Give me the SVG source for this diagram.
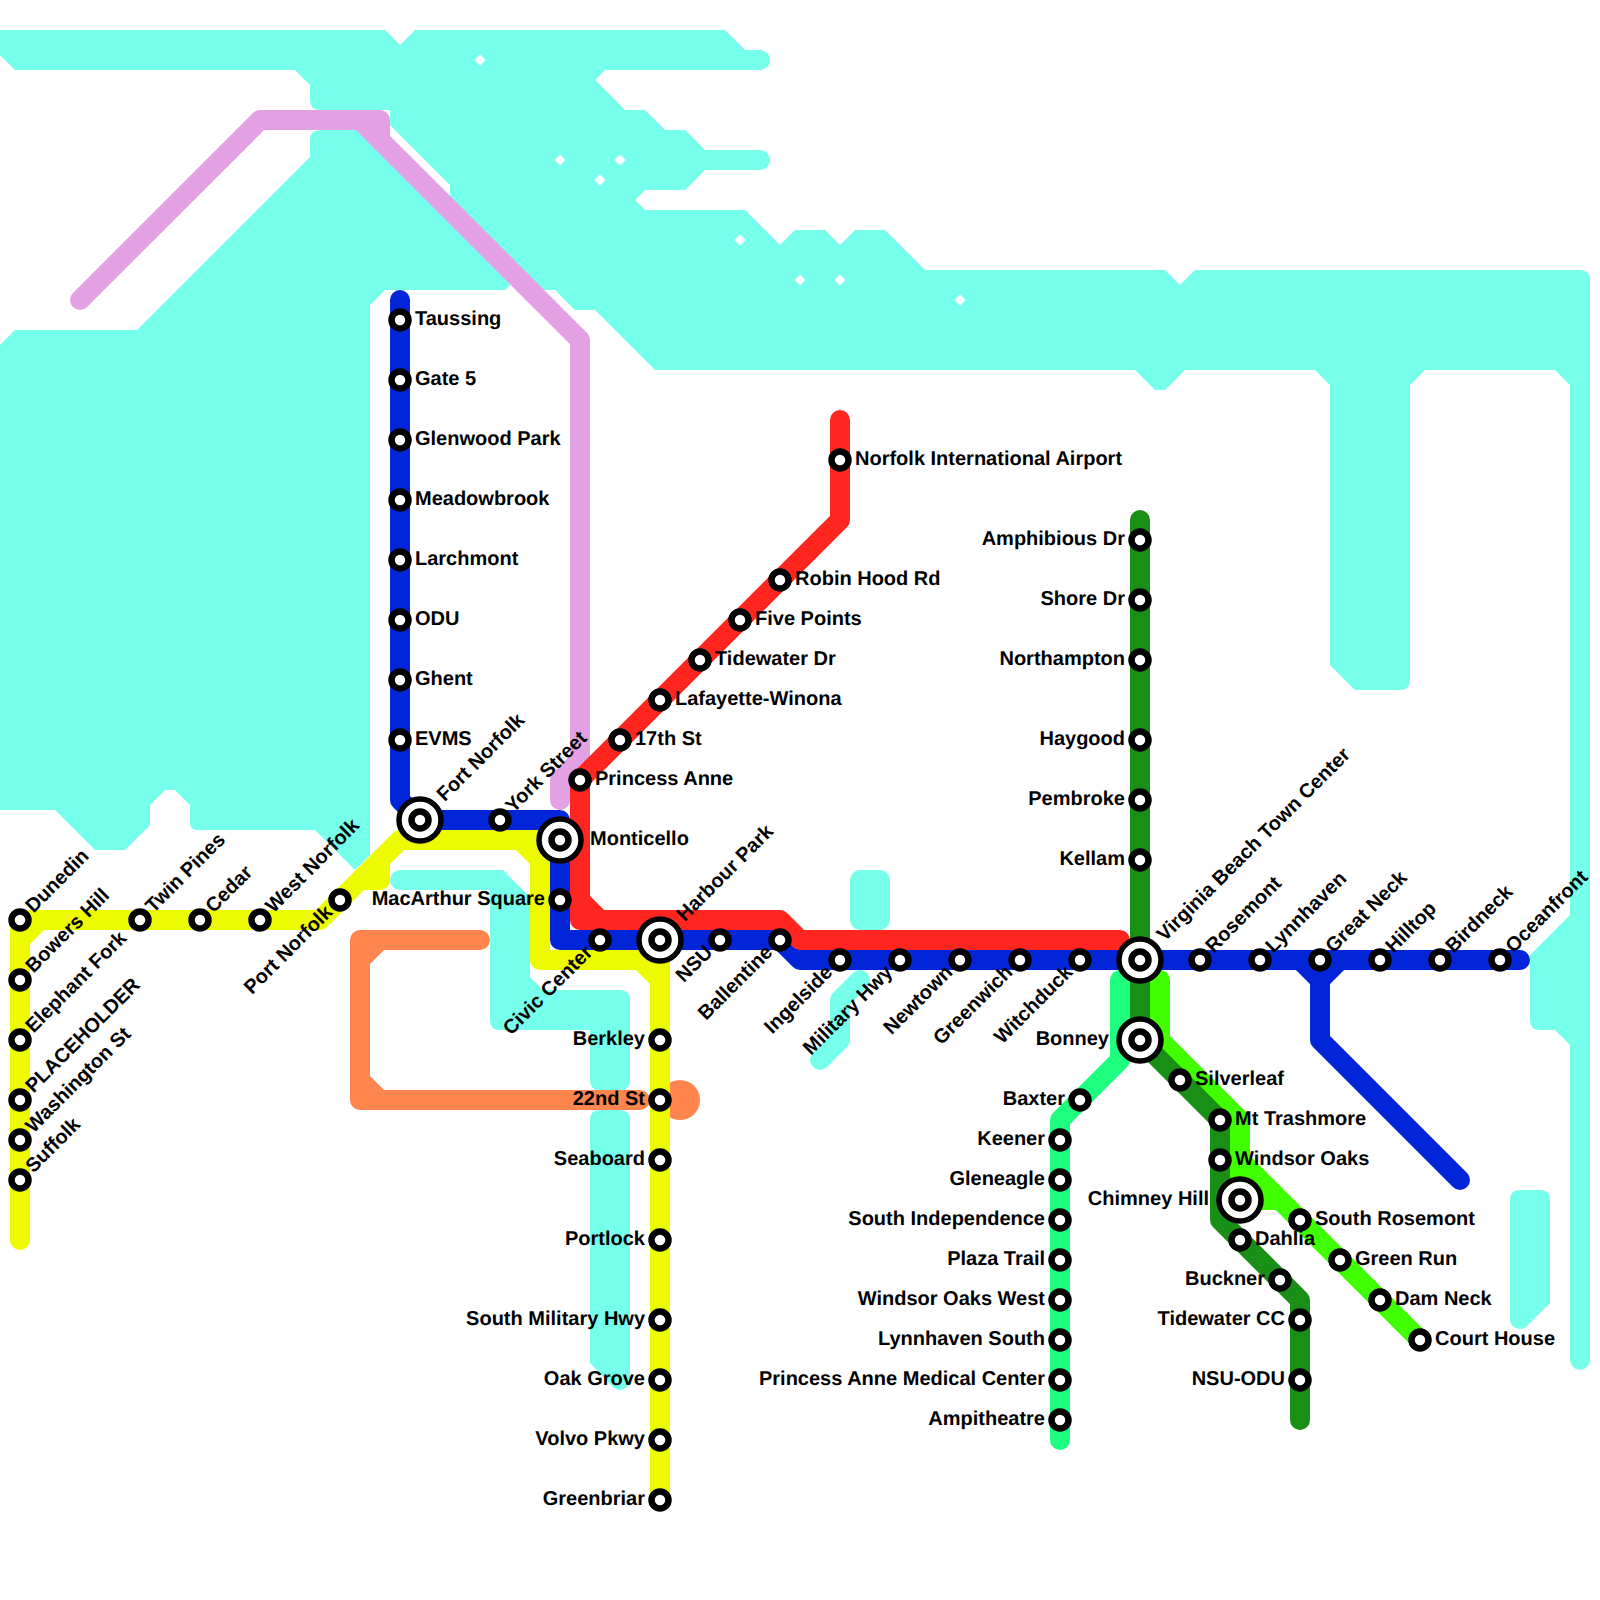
<svg xmlns="http://www.w3.org/2000/svg" width="1600" height="1600" viewBox="0 0 1600 1600">
<style>
.w{fill:#76FFEB}
.ws{fill:none;stroke:#76FFEB;stroke-width:20;stroke-linecap:round;stroke-linejoin:round}
.l{fill:none;stroke-width:20;stroke-linecap:round;stroke-linejoin:round}
.s{fill:#fff;stroke:#000;stroke-width:6.5}
.o{fill:#fff;stroke:#000;stroke-width:5.5}
text{font-family:"Liberation Sans",Arial,sans-serif;font-weight:700;font-size:20px;fill:#000;text-rendering:geometricPrecision}
.e{text-anchor:end}
</style>
<defs>
<circle id="st" class="s" r="8.500"/>
<g id="ix"><circle class="o" r="21"/><circle class="s" r="8.500"/></g>
</defs>
<rect width="1600" height="1600" fill="#fff"/>
<g id="water">
<path class="w" d="M0,30H385L400,45L415,30H725L745,50H760A10,10 0 0 1 760,70H605L595,80L625,110H645L665,130H685L705,150H760A10,10 0 0 1 760,170H705L685,190H645L635,200L645,210H745L780,245L795,230H825L840,245L855,230H885L925,270H1165L1180,285L1195,270H1580Q1590,270 1590,280V1360A10,10 0 0 1 1570,1360V1045L1555,1030H1540Q1530,1030 1530,1020V955L1570,915V385L1555,370H1425L1410,385V680Q1410,690 1400,690H1355L1330,665V385L1315,370H1185L1165,390H1155L1135,370H655L595,310H575L555,290H530L515,280L505,290H385L370,305V855L355,870L315,830H197Q190,830 190,822V805L175,790H165L150,805V825L125,850H95L55,810H0V345L15,330H137L310,157V140Q310,130 320,130H365L450,215V185L390,125V110H320Q310,110 310,100V85L295,70H15L0,55Z"/>
<path class="w" d="M400,870H503L530,897V977L543,990H620Q630,990 630,1000V1080Q630,1090 620,1090H600Q590,1090 590,1080V1030H500Q490,1030 490,1020V890H400A10,10 0 0 1 400,870Z"/>
<path class="w" d="M600,1110H620Q630,1110 630,1120V1380A10,10 0 0 1 613,1387L590,1363V1120Q590,1110 600,1110Z"/>
<rect class="w" x="850" y="870" width="40" height="60" rx="10"/>
<path class="ws" d="M860,980L840,1000V1040L820,1060"/>
<path class="w" d="M1520,1190H1540Q1550,1190 1550,1200V1303L1527,1326A10,10 0 0 1 1510,1320V1200Q1510,1190 1520,1190Z"/>
<g fill="#fff"><path d="M480,54.500l5.500,5.500l-5.500,5.500l-5.500,-5.500Z"/><path d="M560,154.500l5.500,5.500l-5.500,5.500l-5.500,-5.500Z"/><path d="M620,154.500l5.500,5.500l-5.500,5.500l-5.500,-5.500Z"/><path d="M600,174.500l5.500,5.500l-5.500,5.500l-5.500,-5.500Z"/><path d="M740,234.500l5.500,5.500l-5.500,5.500l-5.500,-5.500Z"/><path d="M800,274.500l5.500,5.500l-5.500,5.500l-5.500,-5.500Z"/><path d="M840,274.500l5.500,5.500l-5.500,5.500l-5.500,-5.500Z"/><path d="M960,294.500l5.500,5.500l-5.500,5.500l-5.500,-5.500Z"/></g>
</g>
<g id="connectors">
<path class="l" stroke="#E3A0E3" d="M80,300L260,120H380V140L580,340V760L560,780V800M360,120L380,140"/>
<path class="l" stroke="#FF854F" d="M480,940H360V1100H640M380,940L360,960M360,1080L380,1100"/>
<circle cx="680" cy="1100" r="20" fill="#FF854F"/>
<path class="l" stroke="#EDFA00" d="M20,1240V920H320L400,840H540V960H660V1500M20,940L40,920M520,840L540,860M640,960L660,980M400,840L380,860V880H360"/>
<path class="l" stroke="#0225D8" d="M400,300V800L420,820H560V940H780L800,960H1520M1300,960L1320,980L1340,960M1320,980V1040L1460,1180"/>
<path class="l" stroke="#FF2620" d="M840,420V520L580,780V920H780L800,940H1120M580,900L600,920"/>
<path class="l" stroke="#1FFF7F" d="M1120,980V1060L1060,1120V1440"/>
<path class="l" stroke="#40FF00" d="M1160,980V1040L1240,1120V1200H1280M1240,1160L1420,1340"/>
<path class="l" stroke="#198F16" d="M1140,520V1040L1220,1120V1220L1300,1300V1420"/>
</g>
<g id="n-taussing"><use href="#st" x="400" y="320"/><text x="415" y="325">Taussing</text></g>
<g id="n-gate5"><use href="#st" x="400" y="380"/><text x="415" y="385">Gate 5</text></g>
<g id="n-glenwood"><use href="#st" x="400" y="440"/><text x="415" y="445">Glenwood Park</text></g>
<g id="n-meadowbrook"><use href="#st" x="400" y="500"/><text x="415" y="505">Meadowbrook</text></g>
<g id="n-larchmont"><use href="#st" x="400" y="560"/><text x="415" y="565">Larchmont</text></g>
<g id="n-odu"><use href="#st" x="400" y="620"/><text x="415" y="625">ODU</text></g>
<g id="n-ghent"><use href="#st" x="400" y="680"/><text x="415" y="685">Ghent</text></g>
<g id="n-evms"><use href="#st" x="400" y="740"/><text x="415" y="745">EVMS</text></g>
<g id="n-fort-norfolk"><use href="#ix" x="420" y="820"/><text transform="translate(420 820) rotate(-45)" x="30" y="5">Fort Norfolk</text></g>
<g id="n-york"><use href="#st" x="500" y="820"/><text transform="translate(500 820) rotate(-45)" x="14" y="5">York Street</text></g>
<g id="n-monticello"><use href="#ix" x="560" y="840"/><text x="590" y="845">Monticello</text></g>
<g id="n-macarthur"><use href="#st" x="560" y="900"/><text class="e" x="545" y="905">MacArthur Square</text></g>
<g id="n-civic"><use href="#st" x="600" y="940"/><text class="e" transform="translate(600 940) rotate(-45)" x="-14" y="5">Civic Center</text></g>
<g id="n-harbour"><use href="#ix" x="660" y="940"/><text transform="translate(660 940) rotate(-45)" x="30" y="5">Harbour Park</text></g>
<g id="n-nsu"><use href="#st" x="720" y="940"/><text class="e" transform="translate(720 940) rotate(-45)" x="-14" y="5">NSU</text></g>
<g id="n-ballentine"><use href="#st" x="780" y="940"/><text class="e" transform="translate(780 940) rotate(-45)" x="-14" y="5">Ballentine</text></g>
<g id="n-ingelside"><use href="#st" x="840" y="960"/><text class="e" transform="translate(840 960) rotate(-45)" x="-14" y="5">Ingelside</text></g>
<g id="n-military"><use href="#st" x="900" y="960"/><text class="e" transform="translate(900 960) rotate(-45)" x="-14" y="5">Military Hwy</text></g>
<g id="n-newtown"><use href="#st" x="960" y="960"/><text class="e" transform="translate(960 960) rotate(-45)" x="-14" y="5">Newtown</text></g>
<g id="n-greenwich"><use href="#st" x="1020" y="960"/><text class="e" transform="translate(1020 960) rotate(-45)" x="-14" y="5">Greenwich</text></g>
<g id="n-witchduck"><use href="#st" x="1080" y="960"/><text class="e" transform="translate(1080 960) rotate(-45)" x="-14" y="5">Witchduck</text></g>
<g id="n-vbtc"><use href="#ix" x="1140" y="960"/><text transform="translate(1140 960) rotate(-45)" x="30" y="5">Virginia Beach Town Center</text></g>
<g id="n-rosemont"><use href="#st" x="1200" y="960"/><text transform="translate(1200 960) rotate(-45)" x="14" y="5">Rosemont</text></g>
<g id="n-lynnhaven"><use href="#st" x="1260" y="960"/><text transform="translate(1260 960) rotate(-45)" x="14" y="5">Lynnhaven</text></g>
<g id="n-great-neck"><use href="#st" x="1320" y="960"/><text transform="translate(1320 960) rotate(-45)" x="14" y="5">Great Neck</text></g>
<g id="n-hilltop"><use href="#st" x="1380" y="960"/><text transform="translate(1380 960) rotate(-45)" x="14" y="5">Hilltop</text></g>
<g id="n-birdneck"><use href="#st" x="1440" y="960"/><text transform="translate(1440 960) rotate(-45)" x="14" y="5">Birdneck</text></g>
<g id="n-oceanfront"><use href="#st" x="1500" y="960"/><text transform="translate(1500 960) rotate(-45)" x="14" y="5">Oceanfront</text></g>
<g id="n-airport"><use href="#st" x="840" y="460"/><text x="855" y="465">Norfolk International Airport</text></g>
<g id="n-robin"><use href="#st" x="780" y="580"/><text x="795" y="585">Robin Hood Rd</text></g>
<g id="n-five"><use href="#st" x="740" y="620"/><text x="755" y="625">Five Points</text></g>
<g id="n-tidewater-dr"><use href="#st" x="700" y="660"/><text x="715" y="665">Tidewater Dr</text></g>
<g id="n-lafayette"><use href="#st" x="660" y="700"/><text x="675" y="705">Lafayette-Winona</text></g>
<g id="n-17th"><use href="#st" x="620" y="740"/><text x="635" y="745">17th St</text></g>
<g id="n-princess"><use href="#st" x="580" y="780"/><text x="595" y="785">Princess Anne</text></g>
<g id="n-amphibious"><use href="#st" x="1140" y="540"/><text class="e" x="1125" y="545">Amphibious Dr</text></g>
<g id="n-shore"><use href="#st" x="1140" y="600"/><text class="e" x="1125" y="605">Shore Dr</text></g>
<g id="n-northampton"><use href="#st" x="1140" y="660"/><text class="e" x="1125" y="665">Northampton</text></g>
<g id="n-haygood"><use href="#st" x="1140" y="740"/><text class="e" x="1125" y="745">Haygood</text></g>
<g id="n-pembroke"><use href="#st" x="1140" y="800"/><text class="e" x="1125" y="805">Pembroke</text></g>
<g id="n-kellam"><use href="#st" x="1140" y="860"/><text class="e" x="1125" y="865">Kellam</text></g>
<g id="n-bonney"><use href="#ix" x="1140" y="1040"/><text class="e" x="1109" y="1045">Bonney</text></g>
<g id="n-silverleaf"><use href="#st" x="1180" y="1080"/><text x="1195" y="1085">Silverleaf</text></g>
<g id="n-trashmore"><use href="#st" x="1220" y="1120"/><text x="1235" y="1125">Mt Trashmore</text></g>
<g id="n-windsor"><use href="#st" x="1220" y="1160"/><text x="1235" y="1165">Windsor Oaks</text></g>
<g id="n-chimney"><use href="#ix" x="1240" y="1200"/><text class="e" x="1209" y="1205">Chimney Hill</text></g>
<g id="n-dahlia"><use href="#st" x="1240" y="1240"/><text x="1255" y="1245">Dahlia</text></g>
<g id="n-buckner"><use href="#st" x="1280" y="1280"/><text class="e" x="1265" y="1285">Buckner</text></g>
<g id="n-tcc"><use href="#st" x="1300" y="1320"/><text class="e" x="1285" y="1325">Tidewater CC</text></g>
<g id="n-nsu-odu"><use href="#st" x="1300" y="1380"/><text class="e" x="1285" y="1385">NSU-ODU</text></g>
<g id="n-south-rosemont"><use href="#st" x="1300" y="1220"/><text x="1315" y="1225">South Rosemont</text></g>
<g id="n-green-run"><use href="#st" x="1340" y="1260"/><text x="1355" y="1265">Green Run</text></g>
<g id="n-dam-neck"><use href="#st" x="1380" y="1300"/><text x="1395" y="1305">Dam Neck</text></g>
<g id="n-court-house"><use href="#st" x="1420" y="1340"/><text x="1435" y="1345">Court House</text></g>
<g id="n-baxter"><use href="#st" x="1080" y="1100"/><text class="e" x="1065" y="1105">Baxter</text></g>
<g id="n-keener"><use href="#st" x="1060" y="1140"/><text class="e" x="1045" y="1145">Keener</text></g>
<g id="n-gleneagle"><use href="#st" x="1060" y="1180"/><text class="e" x="1045" y="1185">Gleneagle</text></g>
<g id="n-south-independence"><use href="#st" x="1060" y="1220"/><text class="e" x="1045" y="1225">South Independence</text></g>
<g id="n-plaza"><use href="#st" x="1060" y="1260"/><text class="e" x="1045" y="1265">Plaza Trail</text></g>
<g id="n-windsor-west"><use href="#st" x="1060" y="1300"/><text class="e" x="1045" y="1305">Windsor Oaks West</text></g>
<g id="n-lynnhaven-south"><use href="#st" x="1060" y="1340"/><text class="e" x="1045" y="1345">Lynnhaven South</text></g>
<g id="n-pamc"><use href="#st" x="1060" y="1380"/><text class="e" x="1045" y="1385">Princess Anne Medical Center</text></g>
<g id="n-ampitheatre"><use href="#st" x="1060" y="1420"/><text class="e" x="1045" y="1425">Ampitheatre</text></g>
<g id="n-dunedin"><use href="#st" x="20" y="920"/><text transform="translate(20 920) rotate(-45)" x="14" y="5">Dunedin</text></g>
<g id="n-bowers"><use href="#st" x="20" y="980"/><text transform="translate(20 980) rotate(-45)" x="14" y="5">Bowers Hill</text></g>
<g id="n-elephant"><use href="#st" x="20" y="1040"/><text transform="translate(20 1040) rotate(-45)" x="14" y="5">Elephant Fork</text></g>
<g id="n-placeholder"><use href="#st" x="20" y="1100"/><text transform="translate(20 1100) rotate(-45)" x="14" y="5">PLACEHOLDER</text></g>
<g id="n-washington"><use href="#st" x="20" y="1140"/><text transform="translate(20 1140) rotate(-45)" x="14" y="5">Washington St</text></g>
<g id="n-suffolk"><use href="#st" x="20" y="1180"/><text transform="translate(20 1180) rotate(-45)" x="14" y="5">Suffolk</text></g>
<g id="n-twin-pines"><use href="#st" x="140" y="920"/><text transform="translate(140 920) rotate(-45)" x="14" y="5">Twin Pines</text></g>
<g id="n-cedar"><use href="#st" x="200" y="920"/><text transform="translate(200 920) rotate(-45)" x="14" y="5">Cedar</text></g>
<g id="n-west-norfolk"><use href="#st" x="260" y="920"/><text transform="translate(260 920) rotate(-45)" x="14" y="5">West Norfolk</text></g>
<g id="n-port-norfolk"><use href="#st" x="340" y="900"/><text class="e" transform="translate(340 900) rotate(-45)" x="-14" y="5">Port Norfolk</text></g>
<g id="n-berkley"><use href="#st" x="660" y="1040"/><text class="e" x="645" y="1045">Berkley</text></g>
<g id="n-22nd"><use href="#st" x="660" y="1100"/><text class="e" x="645" y="1105">22nd St</text></g>
<g id="n-seaboard"><use href="#st" x="660" y="1160"/><text class="e" x="645" y="1165">Seaboard</text></g>
<g id="n-portlock"><use href="#st" x="660" y="1240"/><text class="e" x="645" y="1245">Portlock</text></g>
<g id="n-south-military"><use href="#st" x="660" y="1320"/><text class="e" x="645" y="1325">South Military Hwy</text></g>
<g id="n-oak-grove"><use href="#st" x="660" y="1380"/><text class="e" x="645" y="1385">Oak Grove</text></g>
<g id="n-volvo"><use href="#st" x="660" y="1440"/><text class="e" x="645" y="1445">Volvo Pkwy</text></g>
<g id="n-greenbriar"><use href="#st" x="660" y="1500"/><text class="e" x="645" y="1505">Greenbriar</text></g>
</svg>
